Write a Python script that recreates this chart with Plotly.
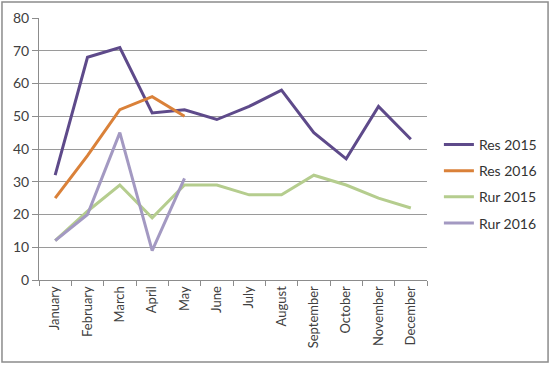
import plotly.graph_objects as go

months = ["January", "February", "March", "April", "May", "June", "July",
          "August", "September", "October", "November", "December"]
res_2015 = [32, 68, 71, 51, 52, 49, 53, 58, 45, 37, 53, 43]
res_2016 = [25, 38, 52, 56, 50]
rur_2015 = [12, 21, 29, 19, 29, 29, 26, 26, 32, 29, 25, 22]
rur_2016 = [12, 20, 45, 9, 31]

series = [
    ("Res 2015", res_2015, "#5E4A8A"),
    ("Res 2016", res_2016, "#DA8139"),
    ("Rur 2015", rur_2015, "#B5CD8E"),
    ("Rur 2016", rur_2016, "#A399C2"),
]

fig = go.Figure()
for name, vals, color in series:
    fig.add_trace(go.Scatter(
        x=months[:len(vals)], y=vals, name=name, mode="lines",
        line=dict(color=color, width=3), legendgroup=name,
    ))

fig.update_layout(
    width=550, height=365,
    margin=dict(l=39, r=123, t=18, b=85),
    paper_bgcolor="white", plot_bgcolor="white",
    font=dict(family="Lato, Open Sans, sans-serif", size=12, color="#404040"),
    showlegend=True,
    legend=dict(xref="container", yref="container", x=0.798, y=0.647,
                xanchor="left", yanchor="top",
                font=dict(size=14, color="#333333"), itemwidth=30,
                tracegroupgap=5, bgcolor="rgba(0,0,0,0)"),
    xaxis=dict(type="category", categoryorder="array", categoryarray=months,
               range=[-0.5, 11.5], automargin=False,
               tickangle=-90, showline=True, linecolor="#8c8c8c", linewidth=1,
               ticks="outside", tickson="boundaries", ticklen=5, tickcolor="#8c8c8c",
               showgrid=False, tickfont=dict(size=13)),
    yaxis=dict(range=[0, 80], dtick=10, showline=True, linecolor="#8c8c8c",
               automargin=False,
               ticks="outside", ticklen=6, tickcolor="#8c8c8c",
               gridcolor="#9a9a9a", gridwidth=1, zeroline=False,
               tickfont=dict(size=14)),
    shapes=[dict(type="rect", xref="paper", yref="paper",
                 x0=-0.0954, x1=1.312, y0=-0.313, y1=1.061,
                 line=dict(color="#8c8c8c", width=1.5), layer="below")],
)

fig.write_html(
    "out.html",
    config={"displayModeBar": False},
    post_script=("document.body.style.margin='0';"
                 "document.body.style.overflow='hidden';"
                 "document.documentElement.style.overflow='hidden';"),
)
